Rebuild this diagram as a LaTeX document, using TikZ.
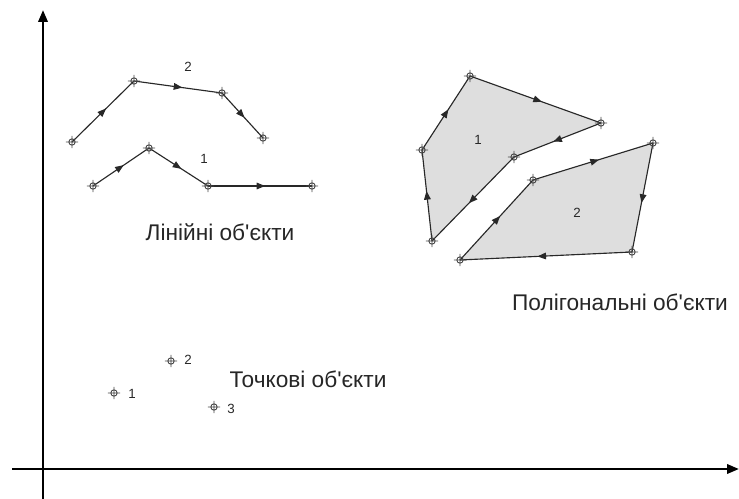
\documentclass[tikz,border=0pt]{standalone}
\usepackage{fontspec}
\setmainfont{Liberation Sans}[Ligatures=TeXOff]
\usetikzlibrary{arrows.meta,decorations.markings}
\definecolor{linec}{RGB}{40,40,40}
\definecolor{fillc}{RGB}{222,222,222}
\definecolor{markc}{RGB}{70,70,70}
\tikzset{
  seg/.style={draw=linec, line width=0.85pt, postaction={decorate},
    decoration={markings, mark=at position 0.55 with {\arrow{Triangle[length=6.5pt,width=5pt]}}}},
  vmark/.style={draw=markc, line width=0.65pt},
  axis/.style={draw=black, line width=1.8pt, -{Triangle[length=9pt,width=7pt]}},
  num/.style={font=\fontsize{10}{12}\selectfont, text=linec, inner sep=0pt},
  title/.style={font=\fontsize{17}{20}\selectfont, text=black!85, inner sep=0pt}
}
\begin{document}
\begin{tikzpicture}[x=0.75pt,y=-0.75pt]
\useasboundingbox (0,0) rectangle (739,499);
% axes
\coordinate (yb) at (43,499);
\coordinate (yt) at (43,10);
\coordinate (xl) at (12,469);
\coordinate (xr) at (739,469);
\draw[axis] (yb) -- (yt);
\draw[axis] (xl) -- (xr);
% line object 2
\coordinate (a1) at (72,142);
\coordinate (a2) at (134,81);
\coordinate (a3) at (222,93);
\coordinate (a4) at (263,138);
% line object 1
\coordinate (b1) at (93,186);
\coordinate (b2) at (149,148);
\coordinate (b3) at (208,186);
\coordinate (b4) at (312,186);
% polygon 1
\coordinate (p1) at (470,76);
\coordinate (p2) at (601,123);
\coordinate (p3) at (514,157);
\coordinate (p4) at (432,241);
\coordinate (p5) at (422,150);
% polygon 2
\coordinate (q1) at (533,180);
\coordinate (q2) at (653,143);
\coordinate (q3) at (632,252);
\coordinate (q4) at (460,260);
% points
\coordinate (s1) at (114,393);
\coordinate (s2) at (171,361);
\coordinate (s3) at (214,407);
% fills
\fill[fillc] (p1) -- (p2) -- (p3) -- (p4) -- (p5) -- cycle;
\fill[fillc] (q1) -- (q2) -- (q3) -- (q4) -- cycle;
% edges
\draw[seg] (a1) -- (a2);
\draw[seg] (a2) -- (a3);
\draw[seg] (a3) -- (a4);
\draw[seg] (b1) -- (b2);
\draw[seg] (b2) -- (b3);
\draw[seg] (b3) -- (b4);
\draw[seg] (p1) -- (p2);
\draw[seg] (p2) -- (p3);
\draw[seg] (p3) -- (p4);
\draw[seg] (p4) -- (p5);
\draw[seg] (p5) -- (p1);
\draw[seg] (q1) -- (q2);
\draw[seg] (q2) -- (q3);
\draw[seg] (q3) -- (q4);
\draw[seg] (q4) -- (q1);
% vertex markers
\foreach \p in {a1,a2,a3,a4,b1,b2,b3,b4,p1,p2,p3,p4,p5,q1,q2,q3,q4,s1,s2,s3}{
  \draw[vmark] (\p) circle[radius=2.4pt]
    (\p) +(-4.6pt,0) -- +(4.6pt,0)
    (\p) +(0,-4.6pt) -- +(0,4.6pt);
}
% labels
\node[num] (la2) at (188,67) {2};
\node[num] (lb1) at (204,159) {1};
\node[num] (lp1) at (478,140) {1};
\node[num] (lq2) at (577,213) {2};
\node[num] (ls1) at (132,394) {1};
\node[num] (ls2) at (188,360) {2};
\node[num] (ls3) at (231,409) {3};
\node[title] (t1) at (220,232) {Лінійні об'єкти};
\node[title] (t2) at (620,302) {Полігональні об'єкти};
\node[title] (t3) at (308,379) {Точкові об'єкти};
\end{tikzpicture}
\end{document}
